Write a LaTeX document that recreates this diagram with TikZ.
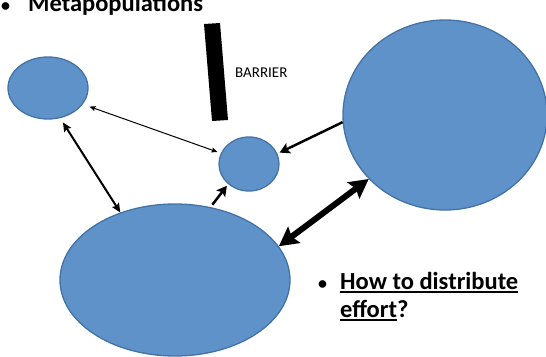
\documentclass[tikz,border=0pt]{standalone}
\usepackage{fontspec}
\setmainfont{Carlito}
\usetikzlibrary{shapes.geometric,arrows.meta}
\definecolor{popfill}{RGB}{96,146,202}
\definecolor{popline}{RGB}{66,114,166}
\newcommand\ulbox[1]{\setbox0\hbox{#1}\rlap{\rule[-3.5pt]{\wd0}{1.8pt}}\box0}
\begin{document}
\begin{tikzpicture}[x=1pt, y=-1pt, line join=round,
	pop/.style={ellipse, draw=popline, line width=1.3pt, fill=popfill, inner sep=0pt},
	flow/.style={line width=#1}]
	\useasboundingbox (0,0) rectangle (546,356);
	% populations
	\node[pop, minimum width=80pt, minimum height=62pt] (left) at (48,88) {};
	\node[pop, minimum width=60pt, minimum height=54pt] (mid) at (249,164) {};
	\node[pop, minimum width=204pt, minimum height=190pt] (right) at (445,115) {};
	\node[pop, minimum width=230pt, minimum height=152pt] (bottom) at (175,280) {};
	% barrier
	\coordinate (B1) at (204,24);
	\coordinate (B2) at (220,23);
	\coordinate (B3) at (228,120);
	\coordinate (B4) at (212,121);
	\fill (B1)--(B2)--(B3)--(B4)--cycle;
	\node[anchor=base west, inner sep=0pt] (barlabel) at (235,77) {\fontsize{15}{18}\selectfont BARRIER};
	% dispersal
	\draw[flow=1pt, {Stealth[length=6pt,width=5pt,inset=1pt]}-{Stealth[length=6pt,width=5pt,inset=1pt]}, shorten <=7pt, shorten >=3.5pt] (left.-25) -- (mid.159);
	\draw[flow=2pt, {Stealth[length=9pt,width=8pt,inset=1.5pt]}-{Stealth[length=9pt,width=8pt,inset=1.5pt]}, shorten <=5pt] (left.-68) -- (bottom.129.5);
	\draw[flow=2.5pt, -{Stealth[length=10pt,width=11pt,inset=2pt]}, shorten <=3pt, shorten >=2pt] (bottom.64) -- (mid.224);
	\draw[flow=2.5pt, -{Stealth[length=10pt,width=11pt,inset=2pt]}, shorten >=2.4pt] (right.184) -- (mid.20);
	\draw[flow=6pt, {Stealth[length=19pt,width=20pt,inset=3pt]}-{Stealth[length=19pt,width=20pt,inset=3pt]}] (bottom.18) -- (right.220);
	% texts
	\node[anchor=base west, inner sep=0pt] (dot1) at (1,12) {\fontsize{18}{22}\selectfont\bfseries •};
	\node[anchor=base west, inner sep=0pt] (title) at (28,12) {\fontsize{24.5}{29}\selectfont\bfseries Metapopulations};
	\node[anchor=base west, inner sep=0pt] (dot2) at (318,289) {\fontsize{18}{22}\selectfont\bfseries •};
	\node[anchor=base west, inner sep=0pt] (ask1) at (340,289) {\fontsize{24.5}{29}\selectfont\bfseries\ulbox{How to distribute}};
	\node[anchor=base west, inner sep=0pt] (ask2) at (340,317) {\fontsize{24.5}{29}\selectfont\bfseries\ulbox{effort}?};
\end{tikzpicture}
\end{document}
